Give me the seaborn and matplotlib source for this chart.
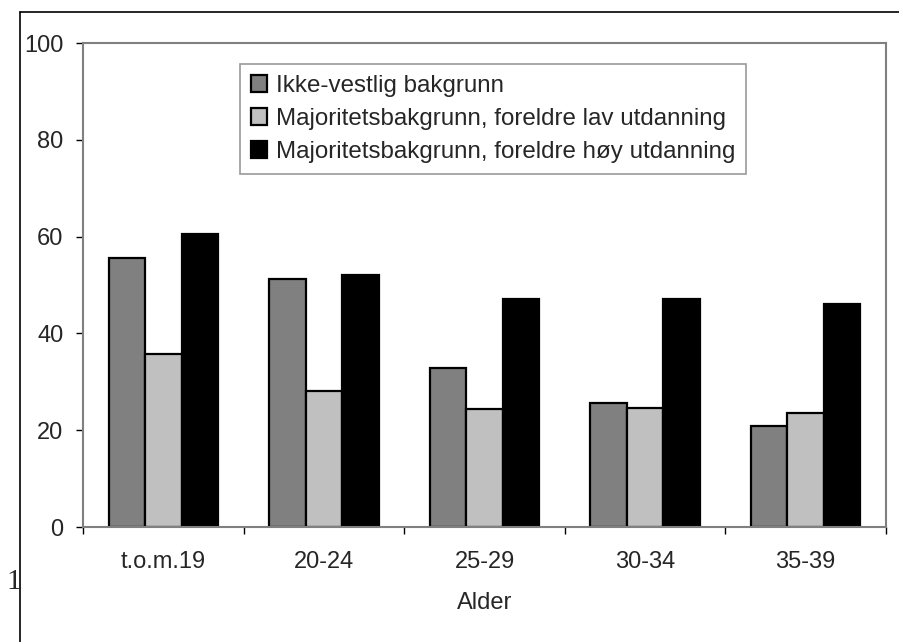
import matplotlib
matplotlib.use("Agg")
import matplotlib.pyplot as plt
from matplotlib.lines import Line2D
import seaborn as sns
import pandas as pd

# Age groups and shares per background group
categories = ["t.o.m.19", "20-24", "25-29", "30-34", "35-39"]
series_names = [
    "Ikke-vestlig bakgrunn",
    "Majoritetsbakgrunn, foreldre lav utdanning",
    "Majoritetsbakgrunn, foreldre høy utdanning",
]
ikke_vestlig = [55.6, 51.3, 32.9, 25.6, 20.9]
lav_utdanning = [35.7, 28.2, 24.4, 24.5, 23.5]
hoy_utdanning = [60.6, 52.0, 47.2, 47.2, 46.0]
y_ticks = [0, 20, 40, 60, 80, 100]

colors = ["#808080", "#C0C0C0", "#000000"]

rows = []
for name, vals in zip(series_names, [ikke_vestlig, lav_utdanning, hoy_utdanning]):
    for cat, v in zip(categories, vals):
        rows.append({"Alder": cat, "Gruppe": name, "Andel": v})
df = pd.DataFrame(rows)

sns.set_style("white")
plt.rcParams["font.family"] = ["Liberation Sans", "DejaVu Sans"]

FS = 17

fig = plt.figure(figsize=(8.99, 6.42), dpi=100)
ax = fig.add_axes([83 / 899, 1 - 527 / 642, (886 - 83) / 899, (527 - 43) / 642])

sns.barplot(
    data=df, x="Alder", y="Andel", hue="Gruppe",
    order=categories, hue_order=series_names,
    palette=colors, width=0.68, gap=0, saturation=1,
    edgecolor="black", linewidth=1.6, ax=ax, errorbar=None,
)

ax.set_ylim(0, 100)
ax.set_xlim(-0.5, len(categories) - 0.5)
ax.set_yticks(y_ticks)
ax.set_yticklabels([str(t) for t in y_ticks], fontsize=FS)

# tick marks sit between categories, labels at category centres
ax.set_xticks([i - 0.5 for i in range(len(categories) + 1)])
ax.set_xticklabels([""] * (len(categories) + 1))
ax.set_xticks(range(len(categories)), minor=True)
ax.set_xticklabels(categories, minor=True, fontsize=FS)
ax.tick_params(axis="x", which="major", direction="out", length=5, width=1, color="black", bottom=True)
ax.tick_params(axis="x", which="minor", length=0, pad=17)
ax.tick_params(axis="y", direction="out", length=5, width=1, color="black", left=True, pad=9)

for side in ["left", "bottom", "top", "right"]:
    ax.spines[side].set_visible(True)
    ax.spines[side].set_color("#808080")
    ax.spines[side].set_linewidth(1.5)

ax.set_xlabel("Alder", fontsize=FS, labelpad=14)
ax.set_ylabel("")

handles, labels = ax.get_legend_handles_labels()
leg = ax.legend(
    handles, labels, loc="upper left", bbox_to_anchor=(0.1955, 0.956),
    borderaxespad=0, fontsize=17.4, frameon=True, fancybox=False,
    edgecolor="#808080", handlelength=0.68, handleheight=0.68,
    handletextpad=0.34, labelspacing=0.45, borderpad=0.45,
)
leg.get_frame().set_linewidth(1.2)

# page border lines and page number
fig.add_artist(Line2D([20 / 899, 20 / 899], [0, 1 - 12 / 642], color="black", linewidth=1.2))
fig.add_artist(Line2D([20 / 899, 1], [1 - 12 / 642, 1 - 12 / 642], color="black", linewidth=1.2))
fig.text(14 / 899, 1 - 582 / 642, "1", fontsize=21, family="Liberation Serif",
         ha="center", va="center")

fig.savefig("out.png", dpi=100)
